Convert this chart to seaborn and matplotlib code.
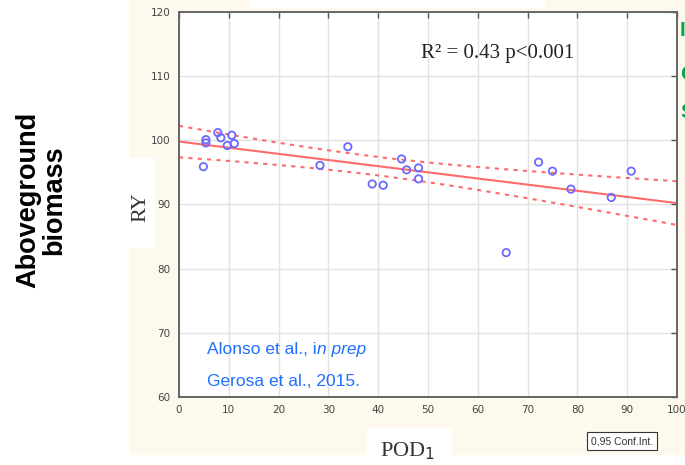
import numpy as np
import pandas as pd
import seaborn as sns
import matplotlib.pyplot as plt
from matplotlib.patches import Rectangle

# data
pod1 = [4.9, 5.4, 5.4, 7.8, 8.4, 9.7, 10.6, 11.1, 28.3, 33.9, 38.8, 41.0,
        44.7, 45.7, 48.1, 48.1, 65.7, 72.2, 75.0, 78.7, 86.8, 90.8]
ry = [95.9, 100.1, 99.6, 101.2, 100.4, 99.2, 100.8, 99.5, 96.1, 99.0, 93.2, 93.0,
      97.1, 95.4, 95.7, 94.0, 82.5, 96.6, 95.2, 92.4, 91.1, 95.2]
x_ticks = [0, 10, 20, 30, 40, 50, 60, 70, 80, 90, 100]
y_ticks = [60, 70, 80, 90, 100, 110, 120]

df = pd.DataFrame({'POD1': pod1, 'RY': ry})

# linear fit + 95% confidence band of the mean
x = np.array(pod1); y = np.array(ry)
n = len(x)
b, a = np.polyfit(x, y, 1)
resid = y - (a + b*x)
s = np.sqrt(np.sum(resid**2)/(n-2))
t_crit = 2.086  # t(0.975, df=20)
xg = np.linspace(0, 100, 101)
yg = a + b*xg
se = s*np.sqrt(1/n + (xg-x.mean())**2/np.sum((x-x.mean())**2))
fit = pd.DataFrame({'x': xg, 'fit': yg, 'lo': yg - t_crit*se, 'hi': yg + t_crit*se})

sns.set_style('white')
fig = plt.figure(figsize=(6.85, 4.65), dpi=100)
fig.patch.set_facecolor('white')
W, H = 685, 465

def box(x0, y0, x1, y1, color, z=-1):
    # rectangle in pixel coords (from top-left)
    fig.patches.append(Rectangle((x0/W, 1-y1/H), (x1-x0)/W, (y1-y0)/H,
                                 transform=fig.transFigure, facecolor=color,
                                 edgecolor='none', zorder=z))

# cream slide panel and white boxes behind labels
box(129, 0, 685, 455, '#fdf9ec', -2)
box(250, 0, 545, 8, 'white')
box(128, 158, 155, 248, 'white')
box(367, 428, 452, 465, 'white')

ax = fig.add_axes([179/W, (H-397)/H, (677-179)/W, (397-12)/H])
ax.set_facecolor('white')
ax.grid(True, color='#e2e2e2', linewidth=1)
ax.set_axisbelow(True)

red = '#ff6b6b'
sns.lineplot(data=fit, x='x', y='fit', color=red, linewidth=1.5, ax=ax)
sns.lineplot(data=fit, x='x', y='lo', color=red, linewidth=1.5, linestyle=(0, (2, 2.5)), ax=ax)
sns.lineplot(data=fit, x='x', y='hi', color=red, linewidth=1.5, linestyle=(0, (2, 2.5)), ax=ax)
sns.scatterplot(data=df, x='POD1', y='RY', marker='o', s=28, facecolors='none',
                edgecolor='#6a6aff', linewidth=1.3, ax=ax, zorder=5)

ax.set_xlim(0, 100)
ax.set_ylim(60, 120)
ax.set_xticks(x_ticks)
ax.set_yticks(y_ticks)
ax.tick_params(direction='in', length=4, width=1, color='#555555', labelsize=7.5,
               labelcolor='#444444', top=True, right=True, pad=6)
for sp in ax.spines.values():
    sp.set_color('#666666')
    sp.set_linewidth(1.4)
    sp.set_visible(True)
ax.set_xlabel('')
ax.set_ylabel('')

ax.text(0.64, 0.893, 'R² = 0.43 p<0.001', transform=ax.transAxes, ha='center',
        va='center', fontsize=15, family='Liberation Serif', color='#222222')
t1 = ax.text(0.056, 0.112, 'Alonso et al., i', transform=ax.transAxes, fontsize=12.5,
             color='#1f6fff', family='Liberation Sans', va='baseline')
ax.annotate('n prep', xy=(1, 0), xycoords=t1, fontsize=12.5, color='#1f6fff',
            family='Liberation Sans', style='italic', va='bottom', ha='left')
ax.text(0.056, 0.039, 'Gerosa et al., 2015.', transform=ax.transAxes, fontsize=12.5,
        color='#1f6fff', family='Liberation Sans', va='center')

# axis labels
fig.text(141/W, 1-207/H, 'RY', rotation=90, ha='center', va='center', fontsize=16,
         family='Liberation Serif', color='#333333')
fig.text(408/W, 1-451/H, 'POD$_1$', ha='center', va='center', fontsize=16,
         family='Liberation Serif', color='#333333')
fig.text(41/W, 1-200/H, 'Aboveground\nbiomass', rotation=90, ha='center', va='center',
         fontsize=19.5, fontweight='bold', family='Liberation Sans', color='black',
         linespacing=1.0)
fig.text(591/W, 1-441/H, '0,95 Conf.Int.', ha='left', va='center', fontsize=7.5,
         family='Liberation Sans', color='#333333',
         bbox=dict(facecolor='white', edgecolor='#333333', pad=3, linewidth=0.8))

# clipped green letters at the right edge
for ch, yy in [('I', 30), ('C', 75), ('S', 112)]:
    fig.text(680/W, 1-yy/H, ch, ha='left', va='center', fontsize=15, fontweight='bold',
             family='Liberation Sans', color='#0aa34a')

fig.savefig('out.png', dpi=100)
